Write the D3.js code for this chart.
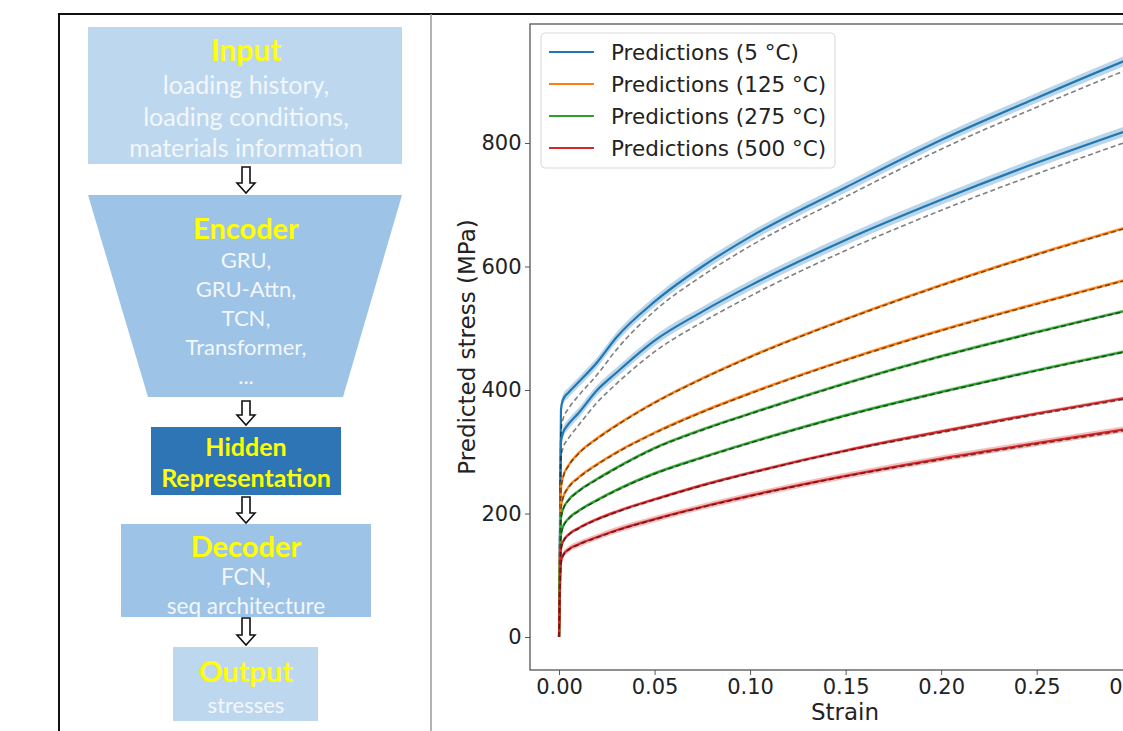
<!DOCTYPE html>
<html>
<head>
<meta charset="utf-8">
<script src="https://cdn.jsdelivr.net/npm/d3@7"></script>
<style>
  body { margin: 0; background: #fff; }
  svg { display: block; }
</style>
</head>
<body>
<svg id="fig" width="1123" height="731"></svg>
<script>
// ---- Stress–strain data (MPa), sampled on a common strain grid ----
const strain = [0, 0.001, 0.002, 0.005, 0.01, 0.02, 0.03, 0.05, 0.075, 0.1, 0.15, 0.2, 0.25, 0.3, 0.33];

// model predictions, two loading cases per temperature
const pred5A   = [0, 368, 384, 396, 412, 445, 485, 543, 600, 648, 728, 805, 873, 938, 975];
const pred5B   = [0, 315, 330, 345, 362, 400, 428, 480, 527, 569, 643, 708, 768, 823, 855];
const pred125A = [0, 240, 258, 278, 297, 322, 343, 380, 419, 454, 515, 570, 620, 666, 693];
const pred125B = [0, 210, 225, 243, 258, 280, 299, 331, 365, 395, 449, 497, 540, 581, 604];
const pred275A = [0, 192, 206, 222, 236, 256, 274, 306, 336, 362, 411, 455, 494, 531, 552];
const pred275B = [0, 165, 178, 192, 204, 222, 238, 265, 291, 315, 359, 397, 432, 465, 484];
const pred500A = [0, 142, 154, 166, 176, 191, 203, 223, 246, 266, 302, 333, 362, 389, 405];
const pred500B = [0, 120, 132, 142, 150, 162, 173, 191, 211, 229, 261, 289, 314, 338, 352];

// reference (measured) curves
const ref5A   = [0, 330, 352, 370, 390, 425, 465, 528, 585, 633, 713, 790, 858, 922, 958];
const ref5B   = [0, 290, 305, 322, 342, 380, 410, 462, 510, 552, 626, 691, 750, 805, 837];
const ref125A = [0, 238, 257, 277, 296, 321, 342, 379, 418, 453, 514, 569, 619, 665, 692];
const ref125B = [0, 209, 224, 242, 257, 279, 298, 330, 364, 394, 448, 496, 539, 580, 603];
const ref275A = [0, 191, 205, 221, 235, 255, 273, 305, 335, 361, 410, 454, 493, 530, 551];
const ref275B = [0, 164, 177, 191, 203, 221, 237, 264, 290, 314, 358, 396, 431, 464, 483];
const ref500A = [0, 141, 153, 165, 175, 190, 202, 222, 245, 265, 301, 331, 360, 387, 403];
const ref500B = [0, 119, 131, 141, 149, 161, 172, 190, 210, 228, 260, 287, 312, 336, 350];

// half-width of the prediction uncertainty band (MPa)
const spread = [8, 8, 3, 3, 3, 3, 3, 5];

const temperatures = ["5", "125", "275", "500"];
const tempColors = ["#1f77b4", "#ff7f0e", "#2ca02c", "#d62728"];
const xTicks = [0, 0.05, 0.1, 0.15, 0.2, 0.25, 0.3];
const yTicks = [0, 200, 400, 600, 800];

// ---- Flowchart contents ----
const inputLines = ["loading history,", "loading conditions,", "materials information"];
const encoderLines = ["GRU,", "GRU-Attn,", "TCN,", "Transformer,", "..."];
const hiddenLines = ["Hidden", "Representation"];
const decoderLines = ["FCN,", "seq architecture"];
const outputLines = ["stresses"];

const svg = d3.select("#fig");

// ---------------- Left panel: encoder–decoder flowchart ----------------
const flow = svg.append("g").attr("font-family", "Lato, 'Open Sans', sans-serif");
const cx = 246;
const light = "#bdd7ee", mid = "#9dc3e6", dark = "#2e75b6";
const yellow = "#ffff00", pale = "#f3f7fc";

flow.append("rect").attr("x", 88).attr("y", 27).attr("width", 314).attr("height", 137).attr("fill", light);
flow.append("path").attr("d", "M88,195 L402,195 L343,397 L148,397 Z").attr("fill", mid);
flow.append("rect").attr("x", 151).attr("y", 427).attr("width", 190).attr("height", 68).attr("fill", dark);
flow.append("rect").attr("x", 121).attr("y", 524).attr("width", 250).attr("height", 93).attr("fill", mid);
flow.append("rect").attr("x", 173).attr("y", 647).attr("width", 145).attr("height", 74).attr("fill", light);

function title(txt, y, size) {
  flow.append("text").attr("x", cx).attr("y", y).attr("text-anchor", "middle")
    .attr("dominant-baseline", "central").attr("font-weight", "bold")
    .attr("font-size", size).attr("fill", yellow).text(txt);
}
function lines(arr, y0, step, size) {
  flow.selectAll(null).data(arr).enter().append("text")
    .attr("x", cx).attr("y", (d, i) => y0 + i * step)
    .attr("text-anchor", "middle").attr("dominant-baseline", "central")
    .attr("font-size", size).attr("fill", pale).text(d => d);
}
title("Input", 49, 30);
lines(inputLines, 84, 31.5, 25);
title("Encoder", 227, 29);
lines(encoderLines, 259, 29, 22);
hiddenLines.forEach((t, i) => title(t, 446 + i * 31, 25));
title("Decoder", 545, 29);
lines(decoderLines, 576, 29, 22.5);
title("Output", 670, 29);
lines(outputLines, 704, 30, 22);

// hollow down arrows between stages
function arrow(y0, y1) {
  const hw = 9, sw = 4, hy = y1 - 10;
  const p = `M${cx - sw},${y0} L${cx + sw},${y0} L${cx + sw},${hy} L${cx + hw},${hy} L${cx},${y1} L${cx - hw},${hy} L${cx - sw},${hy} Z`;
  flow.append("path").attr("d", p).attr("fill", "#fff").attr("stroke", "#111").attr("stroke-width", 1.6);
}
arrow(167, 193);
arrow(401, 425);
arrow(497, 523);
arrow(618, 645);

// frame lines
svg.append("line").attr("x1", 58).attr("x2", 1123).attr("y1", 14).attr("y2", 14).attr("stroke", "#111").attr("stroke-width", 2);
svg.append("line").attr("x1", 59).attr("x2", 59).attr("y1", 13).attr("y2", 731).attr("stroke", "#111").attr("stroke-width", 2);
svg.append("line").attr("x1", 431).attr("x2", 431).attr("y1", 14).attr("y2", 731).attr("stroke", "#999").attr("stroke-width", 1.5);

// ---------------- Right panel: stress–strain chart ----------------
const plotL = 530, plotR = 1201, plotT = 24, plotB = 670;
const x = d3.scaleLinear().domain([-0.0152, 0.336]).range([plotL, plotR]);
const y = d3.scaleLinear().domain([-53.4, 992.7]).range([plotB, plotT]);

svg.append("defs").append("clipPath").attr("id", "plotClip")
  .append("rect").attr("x", plotL).attr("y", plotT).attr("width", plotR - plotL).attr("height", plotB - plotT);

const chart = svg.append("g").attr("clip-path", "url(#plotClip)");

const predSeries = [pred5A, pred5B, pred125A, pred125B, pred275A, pred275B, pred500A, pred500B];
const refSeries = [ref5A, ref5B, ref125A, ref125B, ref275A, ref275B, ref500A, ref500B];

const line = d3.line().x(d => x(d[0])).y(d => y(d[1])).curve(d3.curveMonotoneX);
const band = d3.area().x(d => x(d[0])).y0(d => y(d[1] - d[2])).y1(d => y(d[1] + d[2])).curve(d3.curveMonotoneX);

predSeries.forEach((vals, k) => {
  const col = tempColors[Math.floor(k / 2)];
  const pts = strain.map((s, i) => [s, vals[i], i === 0 ? 0 : spread[k]]);
  chart.append("path").datum(pts).attr("d", band).attr("fill", col).attr("opacity", 0.3);
  chart.append("path").datum(pts).attr("d", line).attr("fill", "none")
    .attr("stroke", col).attr("stroke-width", 2.2);
  const rpts = strain.map((s, i) => [s, refSeries[k][i]]);
  chart.append("path").datum(rpts).attr("d", line).attr("fill", "none")
    .attr("stroke", "#000").attr("stroke-opacity", 0.5).attr("stroke-width", 1.6)
    .attr("stroke-dasharray", "5,3");
});

// spines
const spine = svg.append("g").attr("stroke", "#555").attr("stroke-width", 1.3).attr("fill", "none");
spine.append("rect").attr("x", plotL).attr("y", plotT).attr("width", plotR - plotL).attr("height", plotB - plotT);

// axes
const font = "'DejaVu Sans', sans-serif";
const xAxis = svg.append("g").attr("transform", `translate(0,${plotB})`)
  .call(d3.axisBottom(x).tickValues(xTicks).tickFormat(d3.format(".2f")).tickSize(5).tickPadding(4));
const yAxis = svg.append("g").attr("transform", `translate(${plotL},0)`)
  .call(d3.axisLeft(y).tickValues(yTicks).tickFormat(d3.format("d")).tickSize(5).tickPadding(3.5));
[xAxis, yAxis].forEach(a => {
  a.select(".domain").remove();
  a.selectAll("line").attr("stroke", "#555");
  a.selectAll("text").attr("font-family", font).attr("font-size", 21).attr("fill", "#222");
});

svg.append("text").attr("x", 845).attr("y", 712).attr("text-anchor", "middle")
  .attr("dominant-baseline", "central").attr("font-family", font).attr("font-size", 23)
  .attr("fill", "#222").text("Strain");
svg.append("text").attr("transform", "translate(467,347) rotate(-90)").attr("text-anchor", "middle")
  .attr("dominant-baseline", "central").attr("font-family", font).attr("font-size", 23)
  .attr("fill", "#222").text("Predicted stress (MPa)");

// legend
const leg = svg.append("g");
leg.append("rect").attr("x", 541).attr("y", 33).attr("width", 294).attr("height", 135)
  .attr("rx", 4).attr("fill", "#fff").attr("fill-opacity", 0.85).attr("stroke", "#d9d9d9");
temperatures.forEach((t, i) => {
  const ly = 52 + i * 32;
  leg.append("line").attr("x1", 549).attr("x2", 594).attr("y1", ly).attr("y2", ly)
    .attr("stroke", tempColors[i]).attr("stroke-width", 2.2);
  leg.append("text").attr("x", 611).attr("y", ly).attr("dominant-baseline", "central")
    .attr("font-family", font).attr("font-size", 21.5).attr("fill", "#222")
    .text(`Predictions (${t} °C)`);
});
</script>
</body>
</html>
